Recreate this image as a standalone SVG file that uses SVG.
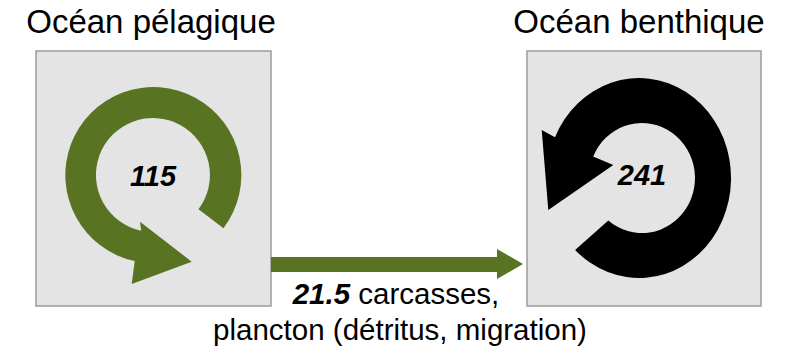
<svg xmlns="http://www.w3.org/2000/svg" width="788" height="356" viewBox="0 0 788 356">
<style>
.box{fill:#e4e4e4;stroke:#9a9a9a;stroke-width:1.5}
.title{font-family:"Liberation Sans",Arial,sans-serif;font-size:33px;fill:#000;text-anchor:middle}
.num{font-family:"Liberation Sans",Arial,sans-serif;font-size:29px;font-weight:bold;font-style:italic;fill:#000;text-anchor:middle}
.lbl{font-family:"Liberation Sans",Arial,sans-serif;font-size:29.5px;fill:#000;text-anchor:middle}
.green{fill:#587423}
</style>
<rect width="788" height="356" fill="#fff"/>
<g id="pelagique">
<rect class="box" x="36" y="51" width="235" height="255"/>
<path class="green" d="M223.5,228.2 A88,88 0 1 0 134.7,261.1 L131.7,284 L191.7,261.7 L140,221.7 L141.2,230.8 A57,57 0 1 1 198.5,209.3 Z"/>
<text class="num" x="153" y="186">115</text>
<text class="title" x="151" y="33">Océan pélagique</text>
</g>
<g id="benthique">
<rect class="box" x="527" y="51" width="234" height="255"/>
<path fill="#000" d="M575.1,249.9 A92,100 0 1 0 555,137.3 L541.7,130 L548.3,210 L613.3,165 L593.2,156.5 A53,55 0 1 1 608.3,220.5 Z"/>
<text class="num" x="642" y="185">241</text>
<text class="title" x="639" y="33">Océan benthique</text>
</g>
<g id="connectors">
<path class="green" d="M271,257 L497,257 L497,249 L523,264 L497,279 L497,272 L271,272 Z"/>
<text class="lbl" x="396" y="304"><tspan font-weight="bold" font-style="italic">21.5</tspan> carcasses,</text>
<text class="lbl" x="400" y="340">plancton (détritus, migration)</text>
</g>
</svg>
